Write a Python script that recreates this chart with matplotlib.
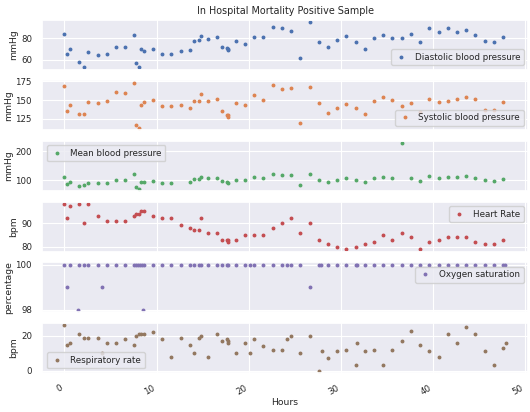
import numpy as np
import matplotlib
matplotlib.use('Agg')
import matplotlib.pyplot as plt
import seaborn as sns

# hours since admission and readings
dia_t = [0.0, 0.3, 0.57, 1.6, 2.1, 2.6, 3.6, 4.6, 5.57, 6.57, 7.6, 7.8, 8.1, 8.35, 8.6, 9.6, 10.6, 11.6, 12.6, 13.6,
         14.1, 14.6, 14.8, 15.6, 16.6, 17.1, 17.6, 17.7, 17.8, 18.6, 19.6, 20.6, 21.6, 22.6, 23.6, 24.6, 25.6, 26.6,
         27.6, 28.6, 29.6, 30.6, 31.6, 32.6, 33.6, 34.6, 35.6, 36.6, 37.6, 38.6, 39.6, 40.6, 41.6, 42.6, 43.6, 44.6,
         45.6, 46.6, 47.6]
diastolic = [84, 65, 70, 58, 53, 67, 64, 65, 72, 72, 83, 57, 53, 70, 68, 70, 65, 65, 68, 69,
             77, 78, 82, 79, 81, 72, 71, 69, 70, 77, 75, 81, 81, 90, 89, 87, 62, 95, 76, 72,
             78, 82, 76, 70, 80, 83, 80, 80, 84, 76, 89, 86, 89, 86, 88, 83, 77, 76, 81]
systolic = [169, 135, 144, 131, 132, 148, 146, 149, 161, 160, 173, 117, 113, 144, 147, 150, 142, 142, 143, 140,
            149, 149, 158, 149, 152, 135, 130, 127, 130, 146, 144, 157, 150, 170, 164, 166, 119, 167, 146, 133,
            140, 145, 140, 132, 149, 154, 150, 142, 146, 134, 152, 148, 149, 152, 154, 152, 137, 137, 147]
heart_rate = [98, 92, 97, 98, 90, 98, 93, 91, 91, 91, 93, 94, 94, 95, 95, 93, 92, 92, 89, 88,
              87, 87, 92, 86, 86, 83, 83, 82, 83, 83, 85, 85, 85, 88, 90, 92, 86, 90, 83, 81,
              80, 79, 80, 81, 82, 85, 83, 86, 84, 79, 82, 83, 84, 84, 84, 82, 81, 81, 83]

mbp_t = [0.0, 0.3, 0.57, 1.6, 2.1, 2.6, 3.6, 4.6, 5.57, 6.57, 7.6, 7.8, 8.1, 8.35, 8.6, 9.6, 10.6, 11.6, 13.6, 14.1,
         14.6, 14.8, 15.6, 16.6, 17.1, 17.6, 17.7, 18.6, 19.6, 20.6, 21.6, 22.6, 23.6, 24.6, 25.6, 26.6, 27.6, 28.6,
         29.6, 30.6, 31.6, 32.6, 33.6, 34.6, 35.6, 36.6, 37.6, 38.6, 39.6, 40.6, 41.6, 42.6, 43.6, 44.6, 45.6,
         46.6, 47.6]
mean_bp = [110, 88, 93, 82, 84, 90, 90, 91, 102, 101, 122, 76, 72, 96, 93, 98, 91, 91, 96, 105,
           105, 113, 108, 108, 99, 93, 91, 102, 102, 110, 108, 122, 117, 117, 85, 123, 102, 96, 102, 107,
           101, 96, 107, 111, 107, 226, 109, 97, 114, 109, 111, 111, 114, 109, 100, 98, 106]

o2_t = [0.0, 0.3, 0.57, 1.5, 1.6, 2.1, 2.6, 3.6, 4.1, 4.6, 5.57, 6.57, 7.6, 7.8, 8.03, 8.24, 8.46, 8.5, 8.67,
        9.6, 10.6, 11.6, 12.6, 13.6, 14.1, 14.6, 14.8, 15.6, 16.6, 17.1, 17.6, 17.8, 18.6, 19.6, 20.1, 20.6,
        21.6, 22.6, 23.6, 24.1, 24.6, 25.6, 26.6, 27.6, 27.8, 28.6, 29.6, 30.6, 31.6, 31.8, 32.6, 33.6, 34.6,
        35.6, 36.6, 37.6, 38.6, 39.6, 40.6, 41.6, 42.6, 43.6, 44.6, 45.6, 46.6, 47.6, 47.8]
o2_sat = [100, 99, 100, 98, 100, 100, 100, 100, 99, 100, 100, 100, 100, 100, 100, 100, 100, 98, 100,
          100, 100, 100, 100, 100, 100, 100, 100, 100, 100, 100, 100, 100, 100, 100, 100, 100,
          100, 100, 100, 100, 100, 100, 99, 100, 100, 100, 100, 100, 100, 100, 100, 100, 100,
          100, 100, 100, 100, 100, 100, 100, 100, 100, 100, 100, 100, 100, 100]

rr_t = [0.0, 0.3, 0.57, 1.6, 2.1, 2.6, 3.6, 4.1, 4.6, 5.57, 6.57, 7.6, 7.8, 8.1, 8.35, 8.6, 9.6, 10.6, 11.6, 12.6,
        13.6, 14.1, 14.6, 14.8, 15.6, 16.6, 17.1, 17.6, 17.7, 17.8, 18.6, 19.6, 20.1, 20.6, 21.6, 22.6, 23.6,
        24.1, 24.6, 25.6, 26.6, 27.6, 27.9, 28.6, 29.6, 30.6, 31.6, 31.8, 32.6, 33.6, 34.6, 35.6, 36.6, 37.6,
        38.6, 39.6, 40.6, 41.6, 42.6, 43.6, 44.6, 45.6, 46.6, 47.6, 47.9]
resp_rate = [26, 15, 16, 21, 19, 19, 19, 10, 16, 16, 18, 15, 20, 21, 21, 21, 22, 18, 8, 19,
             15, 10, 19, 20, 8, 21, 17, 18, 16, 17, 10, 16, 10, 18, 14, 12, 12, 18, 20, 10,
             20, 0, 11, 7, 11, 12, 3, 16, 11, 12, 3, 12, 17, 23, 15, 11, 8, 21, 16, 25,
             21, 11, 3, 13, 16]

sns.set_theme(style='darkgrid')
plt.rcParams['font.family'] = ['DejaVu Sans']

panels = [
    (dia_t, diastolic, 'Diastolic blood pressure', 'mmHg', [60, 80], 'lower right'),
    (dia_t, systolic, 'Systolic blood pressure', 'mmHg', [125, 150, 175], 'lower right'),
    (mbp_t, mean_bp, 'Mean blood pressure', 'mmHg', [100, 200], 'upper left'),
    (dia_t, heart_rate, 'Heart Rate', 'bpm', [80, 90], 'upper right'),
    (o2_t, o2_sat, 'Oxygen saturation', 'percentage', [98, 100], 'upper right'),
    (rr_t, resp_rate, 'Respiratory rate', 'bpm', [0, 20], 'lower left'),
]
colors = sns.color_palette('deep')

fig, axes = plt.subplots(6, 1, sharex=True, figsize=(5.3, 4.12), dpi=100)
fig.subplots_adjust(left=0.08, right=0.996, bottom=0.095, top=0.952, hspace=0.22)

for i, (t, v, name, unit, ticks, loc) in enumerate(panels):
    ax = axes[i]
    ax.plot(t, v, '.', color=colors[i], ms=3.6, label=name)
    ax.set_yticks(ticks)
    ax.set_ylabel(unit, fontsize=6.7, labelpad=2)
    ax.tick_params(labelsize=6.2, pad=1.5)
    ax.grid(linewidth=0.8)
    ax.legend(loc=loc, fontsize=6.3, numpoints=1, handlelength=1.5)

axes[0].set_title('In Hospital Mortality Positive Sample', fontsize=6.9, pad=4)
axes[-1].set_xlabel('Hours', fontsize=6.7, labelpad=1)
axes[-1].set_xticks([0, 10, 20, 30, 40, 50])
for lab in axes[-1].get_xticklabels():
    lab.set_rotation(30)
    lab.set_ha('right')

plt.savefig('out.png', dpi=100)
